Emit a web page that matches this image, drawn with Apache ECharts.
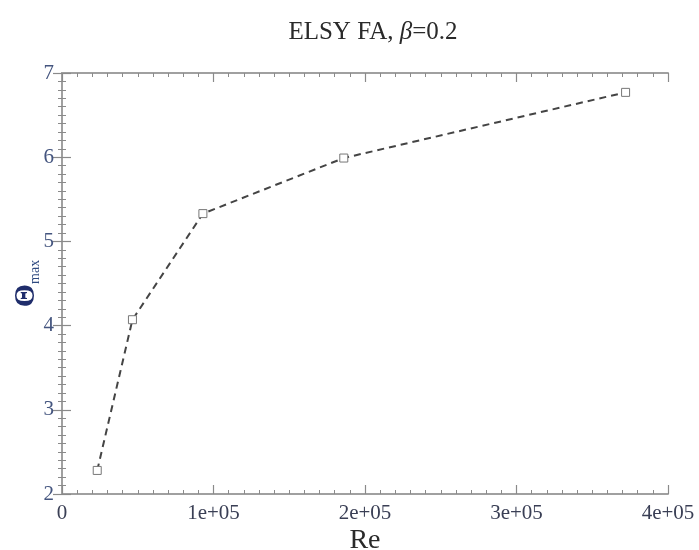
<!DOCTYPE html>
<html><head><meta charset="utf-8">
<script src="https://cdn.jsdelivr.net/npm/echarts@6/dist/echarts.min.js"></script>
<style>html,body{margin:0;padding:0;background:#fff}#c{width:699px;height:550px}</style>
</head><body><div id="c"></div>
<script>
const reynolds = [23250, 46500, 93000, 186000, 372000];
const thetaMax = [2.28, 4.07, 5.33, 5.99, 6.77];
const xTickValues = [0, 100000, 200000, 300000, 400000];
const xTickLabels = ['0', '1e+05', '2e+05', '3e+05', '4e+05'];
const yTickValues = [2, 3, 4, 5, 6, 7];
const yTickLabels = ['2', '3', '4', '5', '6', '7'];

const serif = 'Liberation Serif';
const axisGray = '#a0a0a0';
const tickGray = '#8a8a8a';

function baseAxis(extra) {
  return Object.assign({
    type: 'value',
    axisLine: { show: true, lineStyle: { color: axisGray, width: 2 } },
    axisTick: { show: true, inside: true, length: 9, lineStyle: { color: tickGray, width: 1.2 } },
    minorTick: { show: true, splitNumber: 10, length: 4, lineStyle: { color: tickGray, width: 1 } },
    splitLine: { show: false },
    minorSplitLine: { show: false }
  }, extra);
}

const chart = echarts.init(document.getElementById('c'), null, { renderer: 'canvas' });
chart.setOption({
  backgroundColor: '#fff',
  animation: false,
  title: {
    text: '{n|ELSY FA, }{b|β}{n|=0.2}',
    left: 368, top: 15, textAlign: 'center',
    textStyle: {
      fontWeight: 'normal',
      rich: {
        n: { fontFamily: serif, fontSize: 25, color: '#2a2a2a', fontWeight: 'normal' },
        b: { fontFamily: serif, fontSize: 25, color: '#2a2a2a', fontStyle: 'italic', fontWeight: 'normal' }
      }
    }
  },
  grid: { left: 62, right: 31, top: 73, bottom: 56, outerBoundsMode: 'none', containLabel: false },
  xAxis: [
    baseAxis({
      position: 'bottom', min: 0, max: 400000, interval: 100000,
      axisLabel: {
        fontFamily: serif, fontSize: 21, color: '#3a3f55', margin: 9,
        formatter: v => { const i = xTickValues.indexOf(v); return i >= 0 ? xTickLabels[i] : ''; }
      },
      name: 'Re', nameLocation: 'middle', nameGap: 33, nameMoveOverlap: false,
      nameTextStyle: { fontFamily: serif, fontSize: 28, color: '#2a2a2a' }
    }),
    baseAxis({
      position: 'top', min: 0, max: 400000, interval: 100000,
      axisLabel: { show: false }
    })
  ],
  yAxis: [
    baseAxis({
      position: 'left', min: 2, max: 7, interval: 1,
      axisLabel: {
        fontFamily: serif, fontSize: 21, color: '#44557f', margin: 8,
        formatter: v => { const i = yTickValues.indexOf(v); return i >= 0 ? yTickLabels[i] : ''; }
      },
      name: '{t|Θ}{s|max}', nameLocation: 'middle', nameGap: 20, nameRotate: 90, nameMoveOverlap: false,
      nameTextStyle: {
        rich: {
          t: { fontFamily: serif, fontSize: 30, color: '#1f2d6b', fontWeight: 'bold', lineHeight: 32 },
          s: { fontFamily: serif, fontSize: 14, color: '#2f4a80', verticalAlign: 'bottom', lineHeight: 32, padding: [10, 0, 0, 0] }
        }
      }
    }),
    baseAxis({
      position: 'right', min: 2, max: 7, interval: 1,
      axisLabel: { show: false }
    })
  ],
  series: [{
    type: 'line',
    xAxisIndex: 0, yAxisIndex: 0,
    data: reynolds.map((r, i) => [r, thetaMax[i]]),
    symbol: 'rect', symbolSize: 8, showSymbol: true,
    lineStyle: { type: [7, 5], width: 2, color: '#444' },
    itemStyle: { color: '#fff', borderColor: '#777', borderWidth: 1 }
  }]
});
</script></body></html>
